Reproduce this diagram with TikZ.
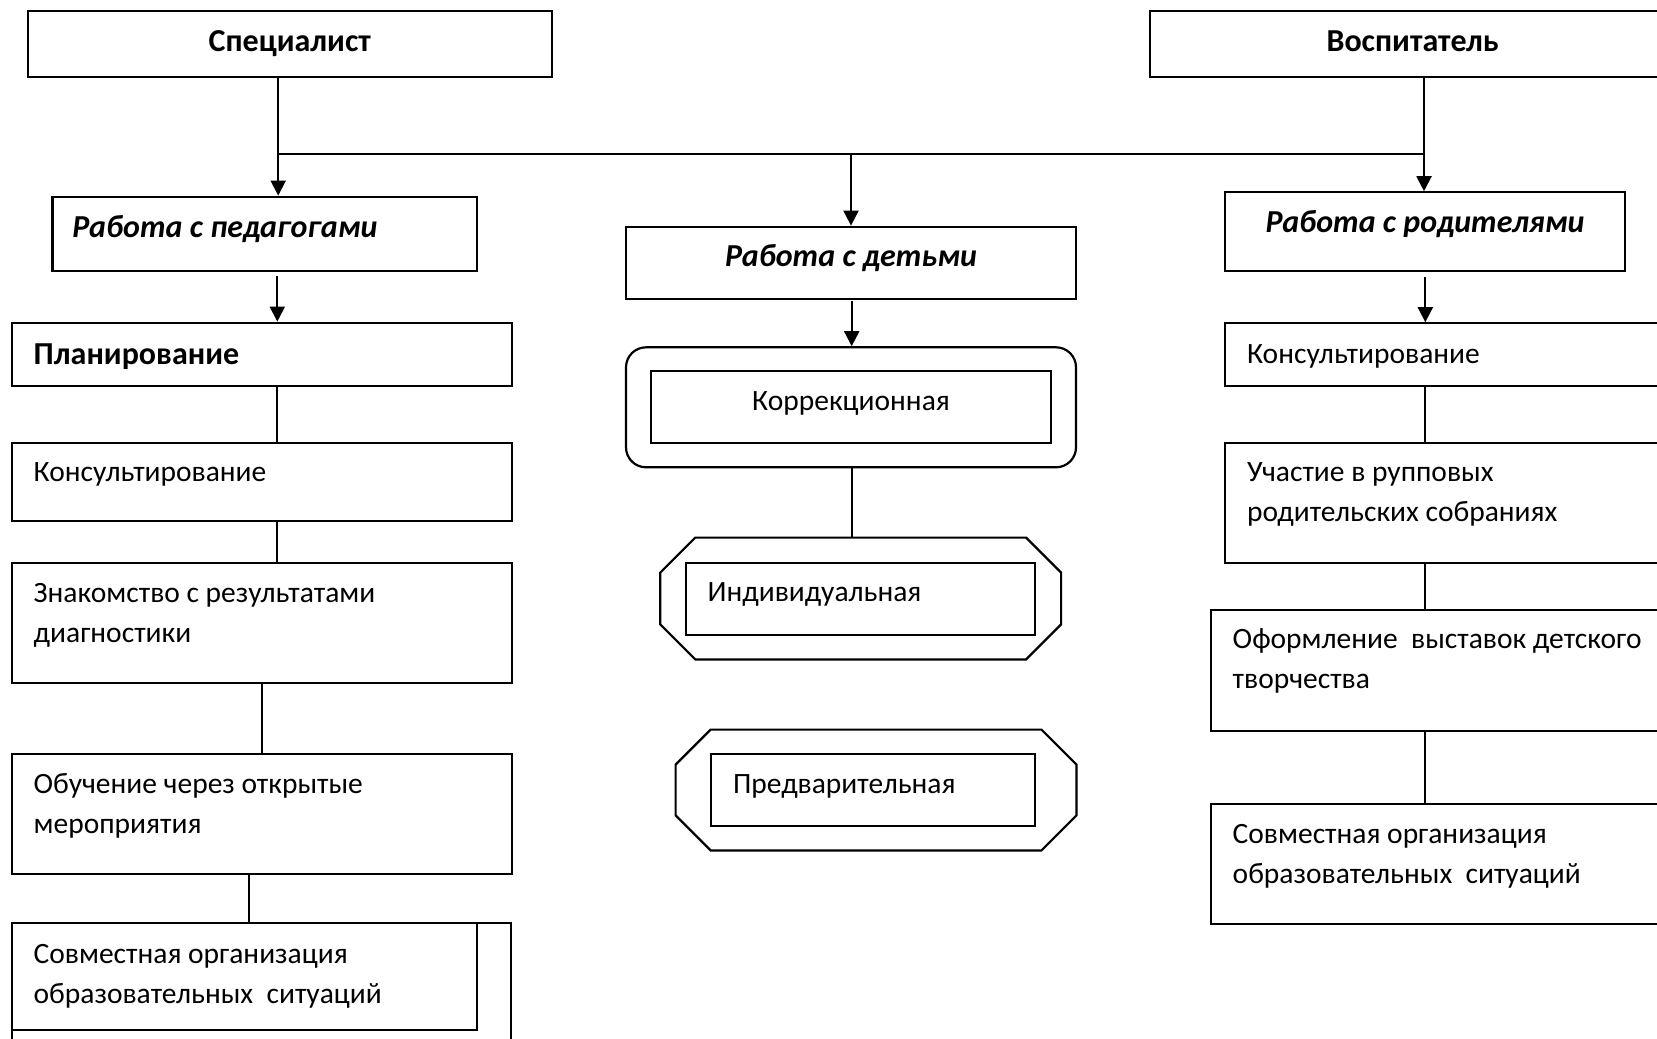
\documentclass[tikz,border=0pt]{standalone}
\usepackage{fontspec}
\setmainfont{Carlito}
\usetikzlibrary{fit,arrows.meta}
\begin{document}
\begin{tikzpicture}[x=0.5pt,y=-0.5pt,
  box/.style={draw, line width=1.1pt, inner sep=0pt, fit={#1}},
  hid/.style={inner sep=0pt, fit={#1}},
  boxline/.style={line width=1.1pt},
  txt/.style={inner sep=0pt, anchor=base west, align=left, font=\fontsize{14.75}{20}\selectfont},
  ctxt/.style={inner sep=0pt, anchor=base, font=\fontsize{14.75}{20}\selectfont},
  bf/.style={font=\fontsize{16}{20}\selectfont\bfseries},
  bfit/.style={font=\fontsize{16}{20}\selectfont\bfseries\itshape},
  conn/.style={line width=1pt},
  arr/.style={line width=1pt, -{Triangle[length=7.5pt,width=7.5pt]}},
]
\useasboundingbox (0,0) rectangle (1657,1038);
\clip (0,0) rectangle (1657,1038);

% top boxes
\node[box={(27.6,10.7) (552,77.3)}] (spec) {};
\node[ctxt, bf] (spect) at (289.8,51.7) {Специалист};
\node[box={(1149.7,10.7) (1675,77.3)}] (vosp) {};
\node[ctxt, bf] (vospt) at (1412.6,51.7) {Воспитатель};

% second level
\node[box={(52.4,196.7) (477.2,270.7)}] (ped) {};
\node[txt, bfit] (pedt) at (72,237.5) {Работа с педагогами};
\node[box={(626,226.7) (1076,299.3)}] (det) {};
\node[ctxt, bfit] (dett) at (851,266.7) {Работа с детьми};
\node[box={(1225,192.3) (1625,270.7)}] (rod) {};
\node[ctxt, bfit] (rodt) at (1425,232.3) {Работа с родителями};

% junctions
\coordinate (jl) at (278.2,154.3);
\coordinate (jm) at (851,154.3);
\coordinate (jr) at (1424,154.3);
\draw[conn] (spec.south -| jl) -- (jl);
\draw[conn] (vosp.south -| jr) -- (jr);
\draw[conn] (jl) -- (jr);
\draw[arr] (jl) -- (jl |- ped.north);
\draw[arr] (jm) -- (jm |- det.north);
\draw[arr] (jr) -- (jr |- rod.north);

% left column
\node[box={(12.3,322.7) (511.7,386)}] (p1) {};
\node[txt, bf] (p1t) at (33.3,364) {Планирование};
\node[box={(12.3,442.7) (511.7,520.7)}] (p2) {};
\node[txt] (p2t) at (33.3,481.7) {Консультирование};
\node[box={(12.3,562.7) (511.7,683.3)}] (p3) {};
\node[txt] (p3t) at (33.3,642.7) {Знакомство с результатами\\диагностики};
\node[box={(12.3,754) (511.7,874.3)}] (p4) {};
\node[txt] (p4t) at (33.3,833.3) {Обучение через открытые\\мероприятия};
\node[box={(12.3,923.3) (511,1070)}] (p5o) {};
\node[box={(12.3,923.3) (477.3,1030)}] (p5) {};
\node[txt] (p5t) at (33.3,1003.3) {Совместная организация\\образовательных \ ситуаций};

\coordinate (c1) at (277.3,0);
\coordinate (c2) at (262.3,0);
\coordinate (c3) at (249.3,0);
\draw[arr] ([yshift=-2pt]ped.south -| c1) -- (p1.north -| c1);
\draw[conn] (p1.south -| c1) -- (p2.north -| c1);
\draw[conn] (p2.south -| c1) -- (p3.north -| c1);
\draw[conn] (p3.south -| c2) -- (p4.north -| c2);
\draw[conn] (p4.south -| c3) -- (p5.north -| c3);

% middle column
\node[draw, line width=1.1pt, rounded corners=10pt, inner sep=0pt, fit={(626,347.3) (1076,467.3)}] (m1) {};
\node[box={(651,371) (1051,442.7)}] (m1i) {};
\node[ctxt] (m1t) at (851,410.7) {Коррекционная};

\node[hid={(660.7,538) (1060.7,659)}] (m2) {};
\draw[boxline] ([xshift=17.5pt]m2.north west) -- ([xshift=-17.5pt]m2.north east) -- ([yshift=-17.5pt]m2.north east) -- ([yshift=17.5pt]m2.south east) -- ([xshift=-17.5pt]m2.south east) -- ([xshift=17.5pt]m2.south west) -- ([yshift=17.5pt]m2.south west) -- ([yshift=-17.5pt]m2.north west) -- cycle;
\node[box={(686,562.7) (1035.3,635)}] (m2i) {};
\node[txt] (m2t) at (707.3,601.7) {Индивидуальная};

\node[hid={(676,730) (1076,850)}] (m3) {};
\draw[boxline] ([xshift=17.5pt]m3.north west) -- ([xshift=-17.5pt]m3.north east) -- ([yshift=-17.5pt]m3.north east) -- ([yshift=17.5pt]m3.south east) -- ([xshift=-17.5pt]m3.south east) -- ([xshift=17.5pt]m3.south west) -- ([yshift=17.5pt]m3.south west) -- ([yshift=-17.5pt]m3.north west) -- cycle;
\node[box={(711,754.3) (1035.3,826)}] (m3i) {};
\node[txt] (m3t) at (732.7,793.3) {Предварительная};

\coordinate (cm) at (851.7,0);
\draw[arr] ([yshift=-0.5pt]det.south -| cm) -- (m1.north -| cm);
\draw[conn] (m1.south -| cm) -- (m2.north -| cm);

% right column
\node[box={(1225,323.3) (1690,386)}] (r1) {};
\node[txt] (r1t) at (1246.7,363.3) {Консультирование};
\node[box={(1225,443.3) (1690,562.7)}] (r2) {};
\node[txt] (r2t) at (1246.7,521.7) {Участие в рупповых\\родительских собраниях};
\node[box={(1210.7,610) (1690,730.7)}] (r3) {};
\node[txt] (r3t) at (1232.3,688.3) {Оформление \ выставок детского\\творчества};
\node[box={(1210.7,804) (1690,924)}] (r4) {};
\node[txt] (r4t) at (1232.3,883.3) {Совместная организация\\образовательных \ ситуаций};

\coordinate (cr) at (1425.3,0);
\draw[arr] ([yshift=-2.5pt]rod.south -| cr) -- (r1.north -| cr);
\draw[conn] (r1.south -| cr) -- (r2.north -| cr);
\draw[conn] (r2.south -| cr) -- (r3.north -| cr);
\draw[conn] (r3.south -| cr) -- (r4.north -| cr);
\end{tikzpicture}
\end{document}
